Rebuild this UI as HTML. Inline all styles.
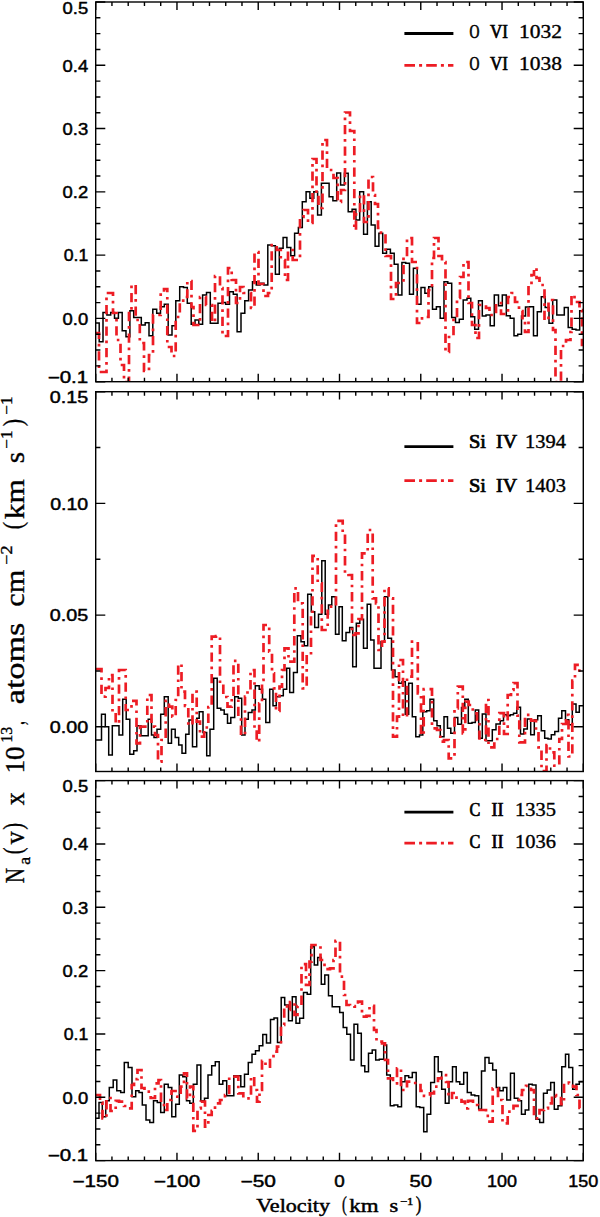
<!DOCTYPE html>
<html><head><meta charset="utf-8"><title>Na(v) profiles</title>
<style>html,body{margin:0;padding:0;background:#fff}svg{display:block}text{fill:#000}</style>
</head><body>
<svg width="600" height="1217" viewBox="0 0 600 1217">
<rect width="600" height="1217" fill="#fff"/>
<defs>
<clipPath id="c0"><rect x="95.7" y="2.0" width="487.6" height="379.7"/></clipPath>
<clipPath id="c1"><rect x="95.7" y="391.7" width="487.6" height="379.8"/></clipPath>
<clipPath id="c2"><rect x="95.7" y="780.6" width="487.6" height="380.0"/></clipPath>
</defs>
<g clip-path="url(#c0)" fill="none">
<path d="M95.7,323.0H99.2V341.7H103.0V312.5H106.9V315.0H110.7V312.5H114.5V318.3H118.4V312.5H122.2V330.8H126.0V336.7H129.9V310.8H133.7V317.5H137.5V317.5H141.3V325.0H145.2V322.8H149.0V335.8H152.8V309.2H156.7V313.3H160.5V306.7H164.3V304.2H168.2V335.0H172.0V325.8H175.8V300.8H179.7V286.7H183.5V287.5H187.3V303.3H191.2V324.2H195.0V320.0H198.8V324.2H202.6V295.0H206.5V292.5H210.3V323.3H214.1V323.3H218.0V303.3H221.8V302.5H225.6V304.2H229.5V291.7H233.3V294.2H237.1V331.7H241.0V313.3H244.8V300.8H248.6V290.0H252.5V281.7H256.3V285.0H260.1V283.3H263.9V285.0H267.8V245.0H271.6V245.8H275.4V274.2H279.3V248.3H283.1V237.5H286.9V247.5H290.8V255.8H294.6V233.3H298.4V227.5H302.3V201.7H306.1V191.7H309.9V198.3H313.8V191.7H317.6V215.0H321.4V183.3H325.2V183.3H329.1V196.7H332.9V200.8H336.7V173.0H340.6V185.0H344.4V173.3H348.2V211.7H352.1V209.2H355.9V220.0H359.7V191.7H363.6V234.2H367.4V201.7H371.2V225.0H375.1V246.3H378.9V233.3H382.7V253.3H386.5V249.2H390.4V253.3H394.2V264.2H398.0V295.0H401.9V262.5H405.7V263.3H409.5V294.2H413.4V268.3H417.2V304.2H421.0V287.5H424.9V293.3H428.7V286.7H432.5V309.2H436.4V306.7H440.2V318.3H444.0V281.7H447.8V283.3H451.7V317.5H455.5V322.5H459.3V319.2H463.2V300.0H467.0V298.3H470.8V316.7H474.7V329.2H478.5V300.8H482.3V316.0H486.0V315.0H490.2V325.8H494.3V295.0H498.5V305.8H502.3V295.0H506.3V315.8H510.2V318.3H514.0V335.8H517.7V334.2H521.5V316.0H525.5V307.0H529.7V306.7H533.5V335.8H537.3V311.7H541.3V296.7H545.2V307.5H549.0V323.3H552.7V300.0H556.8V315.0H560.6V315.0H564.3V307.5H568.2V327.5H572.2V329.2H576.0V330.0H579.7V310.8H583.3" stroke="#000" stroke-width="1.5" stroke-linejoin="miter"/>
<path d="M95.7,333.0H99.0V372.0H106.5V293.0H113.0V313.0H116.5V340.0H120.5V365.0H124.0V382.0H129.0V313.0H131.5V285.0H135.7V320.0H139.8V343.0H144.0V371.0H149.0V355.0H153.0V315.0H157.3V315.0H160.7V293.0H164.0V289.0H167.3V347.0H171.5V356.0H175.7V317.0H179.8V302.0H183.2V297.0H187.3V281.0H191.5V307.0H193.5V325.0H200.0V297.0H206.0V305.0H212.0V322.0H215.0V276.0H220.0V288.0H222.5V336.0H228.0V268.0H231.7V280.0H236.0V303.0H240.0V287.0H243.5V293.0H251.0V308.0H254.5V252.0H258.5V284.0H263.5V296.0H268.0V293.0H271.7V245.0H276.7V250.0H280.8V260.0H285.0V280.0H288.0V250.0H292.7V260.0H300.0V217.0H303.5V210.0H308.0V223.0H312.5V159.0H316.5V195.0H318.5V208.0H322.5V140.0H327.0V170.0H333.5V178.0H337.7V202.0H341.0V190.0H345.0V112.5H350.0V131.0H354.3V230.0H356.0V213.0H360.0V195.0H364.0V222.0H368.5V177.0H373.0V195.0H375.0V204.0H378.0V228.0H381.0V233.0H385.5V256.0H391.0V299.0H396.0V283.0H403.5V257.0H407.0V238.0H412.0V262.0H417.0V323.0H422.0V317.0H428.5V290.0H432.0V258.0H434.0V238.0H438.5V256.0H442.0V262.0H445.5V352.0H449.0V337.0H453.5V318.0H457.0V298.0H460.0V277.0H463.5V262.0H468.5V303.0H472.0V325.0H475.5V338.0H479.0V305.0H486.0V308.0H489.5V315.0H496.0V303.0H501.0V314.0H508.0V297.0H511.5V293.0H515.0V302.0H519.0V311.0H522.5V320.0H525.0V332.0H528.5V285.0H531.5V275.0H534.0V268.0H536.5V278.0H539.5V285.0H544.5V320.0H548.5V300.0H553.0V330.0H555.5V382.0H561.0V346.0H566.0V340.0H570.5V332.0H571.5V295.0H574.5V302.0H579.5V310.0H582.0V345.0H583.3" stroke="#ed1c24" stroke-width="2.7" stroke-dasharray="9.3 4.8 2.6 4.8" stroke-linejoin="miter"/>
</g>
<path d="M95.70,2.0v7.9M95.70,381.7v-7.9M111.95,2.0v4.0M111.95,381.7v-4.0M128.21,2.0v4.0M128.21,381.7v-4.0M144.46,2.0v4.0M144.46,381.7v-4.0M160.71,2.0v4.0M160.71,381.7v-4.0M176.97,2.0v7.9M176.97,381.7v-7.9M193.22,2.0v4.0M193.22,381.7v-4.0M209.47,2.0v4.0M209.47,381.7v-4.0M225.73,2.0v4.0M225.73,381.7v-4.0M241.98,2.0v4.0M241.98,381.7v-4.0M258.23,2.0v7.9M258.23,381.7v-7.9M274.49,2.0v4.0M274.49,381.7v-4.0M290.74,2.0v4.0M290.74,381.7v-4.0M306.99,2.0v4.0M306.99,381.7v-4.0M323.25,2.0v4.0M323.25,381.7v-4.0M339.50,2.0v7.9M339.50,381.7v-7.9M355.75,2.0v4.0M355.75,381.7v-4.0M372.01,2.0v4.0M372.01,381.7v-4.0M388.26,2.0v4.0M388.26,381.7v-4.0M404.51,2.0v4.0M404.51,381.7v-4.0M420.77,2.0v7.9M420.77,381.7v-7.9M437.02,2.0v4.0M437.02,381.7v-4.0M453.27,2.0v4.0M453.27,381.7v-4.0M469.53,2.0v4.0M469.53,381.7v-4.0M485.78,2.0v4.0M485.78,381.7v-4.0M502.03,2.0v7.9M502.03,381.7v-7.9M518.29,2.0v4.0M518.29,381.7v-4.0M534.54,2.0v4.0M534.54,381.7v-4.0M550.79,2.0v4.0M550.79,381.7v-4.0M567.05,2.0v4.0M567.05,381.7v-4.0M583.30,2.0v7.9M583.30,381.7v-7.9M95.7,2.00h9.6M583.3,2.00h-9.6M95.7,17.82h4.7M583.3,17.82h-4.7M95.7,33.64h4.7M583.3,33.64h-4.7M95.7,49.46h4.7M583.3,49.46h-4.7M95.7,65.28h9.6M583.3,65.28h-9.6M95.7,81.10h4.7M583.3,81.10h-4.7M95.7,96.93h4.7M583.3,96.93h-4.7M95.7,112.75h4.7M583.3,112.75h-4.7M95.7,128.57h9.6M583.3,128.57h-9.6M95.7,144.39h4.7M583.3,144.39h-4.7M95.7,160.21h4.7M583.3,160.21h-4.7M95.7,176.03h4.7M583.3,176.03h-4.7M95.7,191.85h9.6M583.3,191.85h-9.6M95.7,207.67h4.7M583.3,207.67h-4.7M95.7,223.49h4.7M583.3,223.49h-4.7M95.7,239.31h4.7M583.3,239.31h-4.7M95.7,255.13h9.6M583.3,255.13h-9.6M95.7,270.95h4.7M583.3,270.95h-4.7M95.7,286.78h4.7M583.3,286.78h-4.7M95.7,302.60h4.7M583.3,302.60h-4.7M95.7,318.42h9.6M583.3,318.42h-9.6M95.7,334.24h4.7M583.3,334.24h-4.7M95.7,350.06h4.7M583.3,350.06h-4.7M95.7,365.88h4.7M583.3,365.88h-4.7M95.7,381.70h9.6M583.3,381.70h-9.6" stroke="#000" stroke-width="1.4" fill="none"/>
<rect x="95.7" y="2.0" width="487.6" height="379.7" fill="none" stroke="#000" stroke-width="1.4"/>
<text x="88.2" y="13.6" text-anchor="end" textLength="25.6" lengthAdjust="spacingAndGlyphs" style="font-family:&quot;Liberation Sans&quot;,serif;font-size:16.0px;font-weight:normal" stroke="#000" stroke-width="0.45">0.5</text>
<text x="88.2" y="71.6" text-anchor="end" textLength="25.6" lengthAdjust="spacingAndGlyphs" style="font-family:&quot;Liberation Sans&quot;,serif;font-size:16.0px;font-weight:normal" stroke="#000" stroke-width="0.45">0.4</text>
<text x="88.2" y="134.9" text-anchor="end" textLength="25.6" lengthAdjust="spacingAndGlyphs" style="font-family:&quot;Liberation Sans&quot;,serif;font-size:16.0px;font-weight:normal" stroke="#000" stroke-width="0.45">0.3</text>
<text x="88.2" y="198.2" text-anchor="end" textLength="25.6" lengthAdjust="spacingAndGlyphs" style="font-family:&quot;Liberation Sans&quot;,serif;font-size:16.0px;font-weight:normal" stroke="#000" stroke-width="0.45">0.2</text>
<text x="88.2" y="261.4" text-anchor="end" textLength="24.5" lengthAdjust="spacingAndGlyphs" style="font-family:&quot;Liberation Sans&quot;,serif;font-size:16.0px;font-weight:normal" stroke="#000" stroke-width="0.45">0.1</text>
<text x="88.2" y="324.7" text-anchor="end" textLength="25.6" lengthAdjust="spacingAndGlyphs" style="font-family:&quot;Liberation Sans&quot;,serif;font-size:16.0px;font-weight:normal" stroke="#000" stroke-width="0.45">0.0</text>
<text x="88.2" y="382.5" text-anchor="end" textLength="40.5" lengthAdjust="spacingAndGlyphs" style="font-family:&quot;Liberation Sans&quot;,serif;font-size:16.0px;font-weight:normal" stroke="#000" stroke-width="0.45">−0.1</text>
<g clip-path="url(#c1)" fill="none">
<path d="M95.7,740.0H101.5V714.2H105.3V726.7H108.7V755.0H112.3V725.8H119.0V735.0H122.7V699.2H126.2V719.2H129.8V754.2H133.7V750.8H137.0V725.8H141.0V735.8H148.2V719.2H151.5V735.0H154.0V737.5H157.0V729.2H160.7V714.2H164.3V696.7H168.2V743.3H171.5V729.2H175.2V737.5H178.7V745.0H182.0V753.3H185.7V734.2H189.0V720.0H192.5V746.7H196.7V718.3H199.2V711.7H203.0V732.5H206.7V755.8H210.0V729.2H213.7V678.3H217.2V708.3H220.8V710.0H224.2V714.2H227.5V723.3H230.8V717.5H234.7V696.7H238.3V698.3H241.7V735.0H245.0V719.2H248.3V712.5H252.0V710.0H255.3V685.8H259.2V689.2H262.5V699.2H265.8V722.5H269.7V689.2H273.0V705.8H276.3V696.7H280.0V695.8H283.3V689.2H286.7V668.3H289.7V692.5H293.5V672.5H297.3V635.8H301.0V641.7H304.3V645.8H307.7V594.2H311.3V611.7H314.7V627.5H318.5V614.2H321.8V560.8H325.2V614.2H328.5V605.0H331.8V596.7H335.5V634.2H339.0V606.7H342.3V640.8H346.0V632.5H349.7V627.5H352.7V666.7H356.3V623.3H359.8V619.2H363.5V648.3H367.2V604.2H370.7V640.0H374.0V668.3H377.7V668.3H381.0V641.7H384.5V596.7H387.8V638.3H391.5V670.0H395.0V676.7H398.7V683.3H402.0V681.7H405.3V714.2H408.7V683.3H412.3V716.7H415.8V736.7H419.5V735.0H422.8V711.7H426.7V710.8H430.0V699.2H433.7V720.8H437.0V725.8H440.3V736.7H444.0V716.7H447.5V728.3H450.8V733.3H454.5V717.5H457.8V724.2H461.5V707.5H464.8V699.2H468.3V723.3H472.0V722.5H475.3V710.0H478.7V738.3H482.3V714.0H486.0V740.7H492.3V729.8H496.0V724.0H500.2V720.7H503.5V714.8H506.8V715.7H510.2V714.8H513.5V713.2H516.8V707.3H520.5V734.0H523.8V729.0H527.3V719.0H530.7V734.8H534.3V719.8H537.7V715.7H541.3V730.7H544.7V738.2H548.0V739.0H551.3V734.8H554.8V731.5H558.5V718.2H561.8V710.7H565.5V719.8H568.8V724.8H572.3V704.0H576.0V712.3H579.3V705.7H583.3" stroke="#000" stroke-width="1.5" stroke-linejoin="miter"/>
<path d="M95.7,669.0H101.5V696.7H105.5V688.0H109.0V675.0H112.5V711.7H115.7V723.3H119.0V670.0H122.5V670.0H125.7V710.0H131.5V700.8H136.5V743.3H140.0V726.7H147.3V695.0H151.5V726.7H155.0V735.0H158.0V761.7H161.5V740.0H165.7V700.8H169.0V706.7H172.3V716.7H175.7V700.0H178.2V664.2H181.5V691.7H185.0V705.8H188.3V725.0H192.5V691.7H196.7V721.7H200.0V736.7H204.2V727.5H208.3V707.0H211.7V636.7H216.0V636.0H220.0V683.3H223.3V697.0H227.5V706.7H231.7V696.7H233.5V660.8H238.3V716.7H241.0V735.0H245.0V696.7H247.5V690.0H250.5V670.0H254.5V731.7H256.7V741.7H259.2V703.3H262.0V680.0H263.5V625.0H269.2V651.7H272.0V673.3H274.0V688.3H276.0V711.0H279.5V686.7H282.0V670.0H284.5V648.3H288.5V661.7H294.3V588.3H298.0V603.3H302.7V688.3H306.7V655.0H311.0V615.0H312.5V555.8H317.7V583.3H321.8V630.0H327.7V606.7H336.0V520.8H342.7V533.0H345.0V573.3H348.5V575.0H352.0V635.0H355.5V633.3H358.5V619.2H362.0V553.3H367.7V530.0H372.7V598.3H376.0V603.3H378.5V650.0H382.0V641.7H384.5V588.3H388.7V598.3H393.0V736.7H397.0V716.7H399.0V660.0H403.0V716.7H407.0V676.7H412.0V641.7H417.8V693.3H421.0V735.0H423.7V689.2H432.0V728.3H437.0V730.0H440.3V741.7H444.0V740.0H448.7V758.3H454.5V708.3H457.8V686.7H462.8V733.3H465.3V701.7H468.7V705.0H472.8V713.3H477.0V720.0H479.5V740.0H486.0V700.0H488.5V747.3H494.3V739.0H499.3V713.2H504.0V734.0H507.7V695.0H511.0V690.0H513.5V683.2H517.5V715.7H519.3V742.3H525.0V714.8H531.0V720.7H536.0V730.0H538.5V747.3H541.5V771.0H546.5V745.0H550.0V752.3H554.3V765.7H559.3V739.0H562.0V724.0H566.0V714.8H568.5V756.5H572.3V680.7H575.0V664.8H579.3V672.3H583.3" stroke="#ed1c24" stroke-width="2.7" stroke-dasharray="9.3 4.8 2.6 4.8" stroke-linejoin="miter"/>
</g>
<path d="M95.70,391.7v7.9M95.70,771.5v-7.9M111.95,391.7v4.0M111.95,771.5v-4.0M128.21,391.7v4.0M128.21,771.5v-4.0M144.46,391.7v4.0M144.46,771.5v-4.0M160.71,391.7v4.0M160.71,771.5v-4.0M176.97,391.7v7.9M176.97,771.5v-7.9M193.22,391.7v4.0M193.22,771.5v-4.0M209.47,391.7v4.0M209.47,771.5v-4.0M225.73,391.7v4.0M225.73,771.5v-4.0M241.98,391.7v4.0M241.98,771.5v-4.0M258.23,391.7v7.9M258.23,771.5v-7.9M274.49,391.7v4.0M274.49,771.5v-4.0M290.74,391.7v4.0M290.74,771.5v-4.0M306.99,391.7v4.0M306.99,771.5v-4.0M323.25,391.7v4.0M323.25,771.5v-4.0M339.50,391.7v7.9M339.50,771.5v-7.9M355.75,391.7v4.0M355.75,771.5v-4.0M372.01,391.7v4.0M372.01,771.5v-4.0M388.26,391.7v4.0M388.26,771.5v-4.0M404.51,391.7v4.0M404.51,771.5v-4.0M420.77,391.7v7.9M420.77,771.5v-7.9M437.02,391.7v4.0M437.02,771.5v-4.0M453.27,391.7v4.0M453.27,771.5v-4.0M469.53,391.7v4.0M469.53,771.5v-4.0M485.78,391.7v4.0M485.78,771.5v-4.0M502.03,391.7v7.9M502.03,771.5v-7.9M518.29,391.7v4.0M518.29,771.5v-4.0M534.54,391.7v4.0M534.54,771.5v-4.0M550.79,391.7v4.0M550.79,771.5v-4.0M567.05,391.7v4.0M567.05,771.5v-4.0M583.30,391.7v7.9M583.30,771.5v-7.9M95.7,391.70h9.6M583.3,391.70h-9.6M95.7,447.55h4.7M583.3,447.55h-4.7M95.7,503.41h9.6M583.3,503.41h-9.6M95.7,559.26h4.7M583.3,559.26h-4.7M95.7,615.11h9.6M583.3,615.11h-9.6M95.7,670.96h4.7M583.3,670.96h-4.7M95.7,726.82h9.6M583.3,726.82h-9.6" stroke="#000" stroke-width="1.4" fill="none"/>
<rect x="95.7" y="391.7" width="487.6" height="379.8" fill="none" stroke="#000" stroke-width="1.4"/>
<text x="88.2" y="403.3" text-anchor="end" textLength="38.4" lengthAdjust="spacingAndGlyphs" style="font-family:&quot;Liberation Sans&quot;,serif;font-size:16.0px;font-weight:normal" stroke="#000" stroke-width="0.45">0.15</text>
<text x="88.2" y="509.7" text-anchor="end" textLength="38.0" lengthAdjust="spacingAndGlyphs" style="font-family:&quot;Liberation Sans&quot;,serif;font-size:16.0px;font-weight:normal" stroke="#000" stroke-width="0.45">0.10</text>
<text x="88.2" y="621.4" text-anchor="end" textLength="38.4" lengthAdjust="spacingAndGlyphs" style="font-family:&quot;Liberation Sans&quot;,serif;font-size:16.0px;font-weight:normal" stroke="#000" stroke-width="0.45">0.05</text>
<text x="88.2" y="733.1" text-anchor="end" textLength="38.4" lengthAdjust="spacingAndGlyphs" style="font-family:&quot;Liberation Sans&quot;,serif;font-size:16.0px;font-weight:normal" stroke="#000" stroke-width="0.45">0.00</text>
<g clip-path="url(#c2)" fill="none">
<path d="M95.7,1118.3H99.0V1102.5H102.3V1116.7H105.7V1100.8H109.3V1087.5H113.2V1080.0H116.8V1090.8H120.7V1092.5H124.3V1062.5H128.2V1067.5H132.0V1096.7H135.7V1090.8H139.0V1092.5H142.3V1105.0H146.0V1120.0H149.8V1122.5H153.5V1100.8H157.3V1102.5H160.7V1112.5H164.3V1084.2H168.2V1087.5H171.8V1116.7H175.7V1104.2H179.3V1075.0H182.8V1076.7H186.5V1100.8H189.8V1103.3H193.3V1084.2H197.0V1065.0H200.8V1100.8H204.5V1098.3H208.0V1075.0H211.7V1065.8H215.3V1061.7H219.2V1084.2H222.8V1080.8H226.7V1095.8H230.3V1095.8H233.8V1075.8H237.2V1075.8H240.8V1086.7H244.5V1074.2H248.3V1062.5H252.0V1054.2H255.5V1050.8H259.2V1045.8H262.8V1034.5H266.5V1043.0H270.5V1019.5H274.0V1018.0H277.5V1042.5H281.2V997.5H284.7V1005.0H288.5V1020.8H292.3V996.7H296.0V1023.3H299.7V1018.3H303.5V992.5H307.2V994.2H310.7V946.7H314.3V965.0H317.7V957.5H321.3V984.2H324.8V975.0H328.5V995.8H332.2V1006.7H336.0V1006.7H339.7V1012.5H343.2V1027.5H346.8V1034.2H350.5V1060.0H354.0V1024.2H357.7V1033.3H361.3V1065.8H364.8V1071.7H368.5V1053.3H372.2V1050.0H375.7V1060.0H379.3V1059.2H383.7V1045.0H386.7V1075.0H390.3V1105.8H394.0V1105.0H397.8V1106.7H401.5V1081.7H405.0V1075.8H408.7V1077.5H412.3V1072.5H416.2V1106.7H419.8V1107.5H423.7V1131.7H427.0V1114.2H430.7V1082.5H434.5V1056.7H438.2V1071.7H441.7V1089.2H445.3V1103.3H449.0V1081.7H452.5V1066.7H456.2V1081.7H459.8V1084.2H463.7V1072.5H467.3V1092.5H471.2V1095.0H474.8V1095.8H478.7V1109.2H481.5V1071.0H485.0V1057.5H489.0V1063.3H492.7V1070.0H496.3V1087.5H499.7V1090.8H503.2V1087.5H506.8V1100.0H510.5V1073.3H514.3V1098.3H518.0V1100.8H521.5V1114.2H525.2V1110.0H528.8V1084.2H532.3V1085.0H536.0V1119.2H539.7V1122.5H543.5V1093.3H547.2V1090.0H550.7V1082.5H554.3V1109.2H558.0V1105.8H561.8V1066.7H565.5V1054.2H568.8V1067.5H572.7V1089.2H576.0V1084.2H579.3V1081.7H583.3" stroke="#000" stroke-width="1.5" stroke-linejoin="miter"/>
<path d="M95.7,1095.0H100.0V1102.5H102.5V1118.3H106.5V1098.0H110.5V1111.0H115.7V1100.8H119.0V1101.7H124.0V1106.0H128.5V1108.3H131.7V1085.0H134.0V1079.2H137.5V1070.0H141.5V1088.0H144.5V1091.7H150.7V1098.0H155.0V1083.3H158.5V1080.0H161.0V1102.0H164.0V1110.0H167.3V1100.0H171.5V1091.0H177.3V1096.7H180.7V1086.7H184.0V1073.3H187.0V1098.3H190.0V1086.7H193.3V1130.8H197.5V1108.3H200.8V1101.7H205.0V1126.7H208.3V1115.0H211.7V1110.8H215.0V1103.3H220.0V1100.0H225.0V1095.0H229.2V1076.7H238.3V1093.3H243.3V1098.3H251.0V1076.7H254.2V1090.0H257.0V1101.7H259.5V1090.0H262.0V1060.8H265.5V1066.7H270.0V1060.0H273.5V1051.7H277.0V1046.7H281.0V1025.0H284.2V1005.8H287.0V1010.0H290.0V1002.0H294.5V1015.0H297.5V1006.0H301.5V964.2H306.0V985.0H309.5V961.7H311.5V945.0H317.0V947.5H320.5V960.0H324.5V969.2H330.0V968.3H333.5V960.0H335.5V940.8H340.0V976.7H344.0V995.0H346.5V1005.0H350.0V1006.0H354.5V1006.7H358.0V1001.7H362.0V1016.7H366.5V1015.8H369.5V1005.8H374.0V1030.0H376.5V1041.7H382.0V1043.3H385.0V1060.0H388.0V1078.3H393.0V1083.3H397.0V1068.3H401.0V1090.0H407.0V1081.7H412.0V1083.0H417.0V1083.3H420.5V1090.8H424.0V1095.8H430.0V1093.3H434.0V1086.7H438.0V1078.3H441.5V1075.0H446.0V1082.0H448.5V1098.0H452.0V1093.0H456.5V1100.0H461.5V1101.7H465.0V1108.3H468.0V1100.8H473.0V1105.0H478.0V1110.0H486.0V1115.8H489.5V1121.7H492.7V1088.3H498.0V1100.0H502.5V1123.3H507.7V1111.7H513.5V1105.8H519.0V1095.0H522.0V1090.0H526.0V1085.8H531.0V1090.0H534.0V1118.3H539.5V1110.0H544.0V1108.3H548.0V1103.3H552.0V1095.0H556.0V1096.7H561.0V1104.2H564.0V1082.5H569.0V1083.3H573.0V1086.7H576.5V1095.0H579.5V1108.0H583.3" stroke="#ed1c24" stroke-width="2.7" stroke-dasharray="9.3 4.8 2.6 4.8" stroke-linejoin="miter"/>
</g>
<path d="M95.70,780.6v7.9M95.70,1160.6v-7.9M111.95,780.6v4.0M111.95,1160.6v-4.0M128.21,780.6v4.0M128.21,1160.6v-4.0M144.46,780.6v4.0M144.46,1160.6v-4.0M160.71,780.6v4.0M160.71,1160.6v-4.0M176.97,780.6v7.9M176.97,1160.6v-7.9M193.22,780.6v4.0M193.22,1160.6v-4.0M209.47,780.6v4.0M209.47,1160.6v-4.0M225.73,780.6v4.0M225.73,1160.6v-4.0M241.98,780.6v4.0M241.98,1160.6v-4.0M258.23,780.6v7.9M258.23,1160.6v-7.9M274.49,780.6v4.0M274.49,1160.6v-4.0M290.74,780.6v4.0M290.74,1160.6v-4.0M306.99,780.6v4.0M306.99,1160.6v-4.0M323.25,780.6v4.0M323.25,1160.6v-4.0M339.50,780.6v7.9M339.50,1160.6v-7.9M355.75,780.6v4.0M355.75,1160.6v-4.0M372.01,780.6v4.0M372.01,1160.6v-4.0M388.26,780.6v4.0M388.26,1160.6v-4.0M404.51,780.6v4.0M404.51,1160.6v-4.0M420.77,780.6v7.9M420.77,1160.6v-7.9M437.02,780.6v4.0M437.02,1160.6v-4.0M453.27,780.6v4.0M453.27,1160.6v-4.0M469.53,780.6v4.0M469.53,1160.6v-4.0M485.78,780.6v4.0M485.78,1160.6v-4.0M502.03,780.6v7.9M502.03,1160.6v-7.9M518.29,780.6v4.0M518.29,1160.6v-4.0M534.54,780.6v4.0M534.54,1160.6v-4.0M550.79,780.6v4.0M550.79,1160.6v-4.0M567.05,780.6v4.0M567.05,1160.6v-4.0M583.30,780.6v7.9M583.30,1160.6v-7.9M95.7,780.60h9.6M583.3,780.60h-9.6M95.7,796.43h4.7M583.3,796.43h-4.7M95.7,812.27h4.7M583.3,812.27h-4.7M95.7,828.10h4.7M583.3,828.10h-4.7M95.7,843.93h9.6M583.3,843.93h-9.6M95.7,859.77h4.7M583.3,859.77h-4.7M95.7,875.60h4.7M583.3,875.60h-4.7M95.7,891.43h4.7M583.3,891.43h-4.7M95.7,907.27h9.6M583.3,907.27h-9.6M95.7,923.10h4.7M583.3,923.10h-4.7M95.7,938.93h4.7M583.3,938.93h-4.7M95.7,954.77h4.7M583.3,954.77h-4.7M95.7,970.60h9.6M583.3,970.60h-9.6M95.7,986.43h4.7M583.3,986.43h-4.7M95.7,1002.27h4.7M583.3,1002.27h-4.7M95.7,1018.10h4.7M583.3,1018.10h-4.7M95.7,1033.93h9.6M583.3,1033.93h-9.6M95.7,1049.77h4.7M583.3,1049.77h-4.7M95.7,1065.60h4.7M583.3,1065.60h-4.7M95.7,1081.43h4.7M583.3,1081.43h-4.7M95.7,1097.27h9.6M583.3,1097.27h-9.6M95.7,1113.10h4.7M583.3,1113.10h-4.7M95.7,1128.93h4.7M583.3,1128.93h-4.7M95.7,1144.77h4.7M583.3,1144.77h-4.7M95.7,1160.60h9.6M583.3,1160.60h-9.6" stroke="#000" stroke-width="1.4" fill="none"/>
<rect x="95.7" y="780.6" width="487.6" height="380.0" fill="none" stroke="#000" stroke-width="1.4"/>
<text x="88.2" y="792.2" text-anchor="end" textLength="25.6" lengthAdjust="spacingAndGlyphs" style="font-family:&quot;Liberation Sans&quot;,serif;font-size:16.0px;font-weight:normal" stroke="#000" stroke-width="0.45">0.5</text>
<text x="88.2" y="850.2" text-anchor="end" textLength="25.6" lengthAdjust="spacingAndGlyphs" style="font-family:&quot;Liberation Sans&quot;,serif;font-size:16.0px;font-weight:normal" stroke="#000" stroke-width="0.45">0.4</text>
<text x="88.2" y="913.6" text-anchor="end" textLength="25.6" lengthAdjust="spacingAndGlyphs" style="font-family:&quot;Liberation Sans&quot;,serif;font-size:16.0px;font-weight:normal" stroke="#000" stroke-width="0.45">0.3</text>
<text x="88.2" y="976.9" text-anchor="end" textLength="25.6" lengthAdjust="spacingAndGlyphs" style="font-family:&quot;Liberation Sans&quot;,serif;font-size:16.0px;font-weight:normal" stroke="#000" stroke-width="0.45">0.2</text>
<text x="88.2" y="1040.2" text-anchor="end" textLength="24.5" lengthAdjust="spacingAndGlyphs" style="font-family:&quot;Liberation Sans&quot;,serif;font-size:16.0px;font-weight:normal" stroke="#000" stroke-width="0.45">0.1</text>
<text x="88.2" y="1103.6" text-anchor="end" textLength="25.6" lengthAdjust="spacingAndGlyphs" style="font-family:&quot;Liberation Sans&quot;,serif;font-size:16.0px;font-weight:normal" stroke="#000" stroke-width="0.45">0.0</text>
<text x="88.2" y="1161.4" text-anchor="end" textLength="40.5" lengthAdjust="spacingAndGlyphs" style="font-family:&quot;Liberation Sans&quot;,serif;font-size:16.0px;font-weight:normal" stroke="#000" stroke-width="0.45">−0.1</text>
<text x="95.7" y="1187.0" text-anchor="middle" textLength="46.3" lengthAdjust="spacingAndGlyphs" style="font-family:&quot;Liberation Sans&quot;,serif;font-size:16.0px;font-weight:normal" stroke="#000" stroke-width="0.45">−150</text>
<text x="177.0" y="1187.0" text-anchor="middle" textLength="46.6" lengthAdjust="spacingAndGlyphs" style="font-family:&quot;Liberation Sans&quot;,serif;font-size:16.0px;font-weight:normal" stroke="#000" stroke-width="0.45">−100</text>
<text x="258.2" y="1187.0" text-anchor="middle" textLength="35.4" lengthAdjust="spacingAndGlyphs" style="font-family:&quot;Liberation Sans&quot;,serif;font-size:16.0px;font-weight:normal" stroke="#000" stroke-width="0.45">−50</text>
<text x="339.5" y="1187.0" text-anchor="middle" textLength="10.5" lengthAdjust="spacingAndGlyphs" style="font-family:&quot;Liberation Sans&quot;,serif;font-size:16.0px;font-weight:normal" stroke="#000" stroke-width="0.45">0</text>
<text x="420.8" y="1187.0" text-anchor="middle" textLength="22.6" lengthAdjust="spacingAndGlyphs" style="font-family:&quot;Liberation Sans&quot;,serif;font-size:16.0px;font-weight:normal" stroke="#000" stroke-width="0.45">50</text>
<text x="502.0" y="1187.0" text-anchor="middle" textLength="30.0" lengthAdjust="spacingAndGlyphs" style="font-family:&quot;Liberation Sans&quot;,serif;font-size:16.0px;font-weight:normal" stroke="#000" stroke-width="0.45">100</text>
<text x="583.3" y="1187.0" text-anchor="middle" textLength="30.0" lengthAdjust="spacingAndGlyphs" style="font-family:&quot;Liberation Sans&quot;,serif;font-size:16.0px;font-weight:normal" stroke="#000" stroke-width="0.45">150</text>
<path d="M404.4,33.5H453.4" stroke="#000" stroke-width="2.9" fill="none"/>
<path d="M404.4,65.3H453.4" stroke="#ed1c24" stroke-width="2.8" stroke-dasharray="10.6 4.1 3 4.1" fill="none"/>
<text x="469.6" y="37.7" textLength="9.9" lengthAdjust="spacingAndGlyphs" style="font-family:&quot;Liberation Serif&quot;,serif;font-size:18.3px;font-weight:normal" stroke="#000" stroke-width="0.7">O</text>
<text x="490.0" y="37.7" textLength="18.0" lengthAdjust="spacingAndGlyphs" style="font-family:&quot;Liberation Serif&quot;,serif;font-size:18.3px;font-weight:normal" stroke="#000" stroke-width="0.7">VI</text>
<text x="519.0" y="37.7" textLength="43.0" lengthAdjust="spacingAndGlyphs" style="font-family:&quot;Liberation Serif&quot;,serif;font-size:18.3px;font-weight:normal" stroke="#000" stroke-width="0.35">1032</text>
<text x="469.6" y="69.5" textLength="9.9" lengthAdjust="spacingAndGlyphs" style="font-family:&quot;Liberation Serif&quot;,serif;font-size:18.3px;font-weight:normal" stroke="#000" stroke-width="0.7">O</text>
<text x="490.0" y="69.5" textLength="18.0" lengthAdjust="spacingAndGlyphs" style="font-family:&quot;Liberation Serif&quot;,serif;font-size:18.3px;font-weight:normal" stroke="#000" stroke-width="0.7">VI</text>
<text x="519.0" y="69.5" textLength="43.0" lengthAdjust="spacingAndGlyphs" style="font-family:&quot;Liberation Serif&quot;,serif;font-size:18.3px;font-weight:normal" stroke="#000" stroke-width="0.35">1038</text>
<path d="M404.4,446.6H453.4" stroke="#000" stroke-width="2.9" fill="none"/>
<path d="M404.4,480.6H453.4" stroke="#ed1c24" stroke-width="2.8" stroke-dasharray="10.6 4.1 3 4.1" fill="none"/>
<text x="469.0" y="448.4" textLength="17.0" lengthAdjust="spacingAndGlyphs" style="font-family:&quot;Liberation Serif&quot;,serif;font-size:18.3px;font-weight:normal" stroke="#000" stroke-width="0.7">Si</text>
<text x="496.0" y="448.4" textLength="21.0" lengthAdjust="spacingAndGlyphs" style="font-family:&quot;Liberation Serif&quot;,serif;font-size:18.3px;font-weight:normal" stroke="#000" stroke-width="0.7">IV</text>
<text x="525.0" y="448.4" textLength="41.0" lengthAdjust="spacingAndGlyphs" style="font-family:&quot;Liberation Serif&quot;,serif;font-size:18.3px;font-weight:normal" stroke="#000" stroke-width="0.35">1394</text>
<text x="469.0" y="491.7" textLength="17.0" lengthAdjust="spacingAndGlyphs" style="font-family:&quot;Liberation Serif&quot;,serif;font-size:18.3px;font-weight:normal" stroke="#000" stroke-width="0.7">Si</text>
<text x="496.0" y="491.7" textLength="21.0" lengthAdjust="spacingAndGlyphs" style="font-family:&quot;Liberation Serif&quot;,serif;font-size:18.3px;font-weight:normal" stroke="#000" stroke-width="0.7">IV</text>
<text x="525.0" y="491.7" textLength="41.0" lengthAdjust="spacingAndGlyphs" style="font-family:&quot;Liberation Serif&quot;,serif;font-size:18.3px;font-weight:normal" stroke="#000" stroke-width="0.35">1403</text>
<path d="M404.4,812.1H453.4" stroke="#000" stroke-width="2.9" fill="none"/>
<path d="M404.4,843.2H453.4" stroke="#ed1c24" stroke-width="2.8" stroke-dasharray="10.6 4.1 3 4.1" fill="none"/>
<text x="469.6" y="816.1" textLength="10.8" lengthAdjust="spacingAndGlyphs" style="font-family:&quot;Liberation Serif&quot;,serif;font-size:18.3px;font-weight:normal" stroke="#000" stroke-width="0.7">C</text>
<text x="491.5" y="816.1" textLength="12.0" lengthAdjust="spacingAndGlyphs" style="font-family:&quot;Liberation Serif&quot;,serif;font-size:18.3px;font-weight:normal" stroke="#000" stroke-width="0.7">II</text>
<text x="515.0" y="816.1" textLength="41.0" lengthAdjust="spacingAndGlyphs" style="font-family:&quot;Liberation Serif&quot;,serif;font-size:18.3px;font-weight:normal" stroke="#000" stroke-width="0.35">1335</text>
<text x="469.6" y="847.6" textLength="10.8" lengthAdjust="spacingAndGlyphs" style="font-family:&quot;Liberation Serif&quot;,serif;font-size:18.3px;font-weight:normal" stroke="#000" stroke-width="0.7">C</text>
<text x="491.5" y="847.6" textLength="12.0" lengthAdjust="spacingAndGlyphs" style="font-family:&quot;Liberation Serif&quot;,serif;font-size:18.3px;font-weight:normal" stroke="#000" stroke-width="0.7">II</text>
<text x="515.0" y="847.6" textLength="41.0" lengthAdjust="spacingAndGlyphs" style="font-family:&quot;Liberation Serif&quot;,serif;font-size:18.3px;font-weight:normal" stroke="#000" stroke-width="0.35">1036</text>
<text transform="translate(23.9,883.2) rotate(-90)" textLength="15.4" lengthAdjust="spacingAndGlyphs" style="font-family:&quot;Liberation Serif&quot;,serif;font-size:27.2px;font-weight:normal" stroke="#000" stroke-width="0.35">N</text>
<text transform="translate(30.4,864.7) rotate(-90)" textLength="7.9" lengthAdjust="spacingAndGlyphs" style="font-family:&quot;Liberation Serif&quot;,serif;font-size:16.5px;font-weight:normal" stroke="#000" stroke-width="0.35">a</text>
<text transform="translate(22.4,854.2) rotate(-90)" textLength="6.9" lengthAdjust="spacingAndGlyphs" style="font-family:&quot;Liberation Serif&quot;,serif;font-size:27.2px;font-weight:normal" stroke="#000" stroke-width="0.35">(</text>
<text transform="translate(23.9,844.2) rotate(-90)" textLength="12.9" lengthAdjust="spacingAndGlyphs" style="font-family:&quot;Liberation Serif&quot;,serif;font-size:27.2px;font-weight:normal" stroke="#000" stroke-width="0.35">v</text>
<text transform="translate(22.4,829.7) rotate(-90)" textLength="6.9" lengthAdjust="spacingAndGlyphs" style="font-family:&quot;Liberation Serif&quot;,serif;font-size:27.2px;font-weight:normal" stroke="#000" stroke-width="0.35">)</text>
<text transform="translate(23.9,805.2) rotate(-90)" textLength="12.9" lengthAdjust="spacingAndGlyphs" style="font-family:&quot;Liberation Serif&quot;,serif;font-size:27.2px;font-weight:normal" stroke="#000" stroke-width="0.35">x</text>
<text transform="translate(23.9,773.5) rotate(-90)" textLength="27.2" lengthAdjust="spacingAndGlyphs" style="font-family:&quot;Liberation Serif&quot;,serif;font-size:27.2px;font-weight:normal" stroke="#000" stroke-width="0.35">10</text>
<text transform="translate(12.0,742.8) rotate(-90)" textLength="16.0" lengthAdjust="spacingAndGlyphs" style="font-family:&quot;Liberation Serif&quot;,serif;font-size:16.0px;font-weight:normal" stroke="#000" stroke-width="0.35">13</text>
<text transform="translate(23.9,725.0) rotate(-90)" textLength="4.0" lengthAdjust="spacingAndGlyphs" style="font-family:&quot;Liberation Serif&quot;,serif;font-size:27.2px;font-weight:normal" stroke="#000" stroke-width="0.35">,</text>
<text transform="translate(23.9,704.2) rotate(-90)" textLength="81.4" lengthAdjust="spacingAndGlyphs" style="font-family:&quot;Liberation Serif&quot;,serif;font-size:27.2px;font-weight:normal" stroke="#000" stroke-width="0.35">atoms</text>
<text transform="translate(23.9,606.7) rotate(-90)" textLength="36.9" lengthAdjust="spacingAndGlyphs" style="font-family:&quot;Liberation Serif&quot;,serif;font-size:27.2px;font-weight:normal" stroke="#000" stroke-width="0.35">cm</text>
<text transform="translate(12.0,564.7) rotate(-90)" textLength="19.4" lengthAdjust="spacingAndGlyphs" style="font-family:&quot;Liberation Serif&quot;,serif;font-size:16.0px;font-weight:normal" stroke="#000" stroke-width="0.35">−2</text>
<text transform="translate(22.4,529.2) rotate(-90)" textLength="7.2" lengthAdjust="spacingAndGlyphs" style="font-family:&quot;Liberation Serif&quot;,serif;font-size:27.2px;font-weight:normal" stroke="#000" stroke-width="0.35">(</text>
<text transform="translate(23.9,519.2) rotate(-90)" textLength="39.9" lengthAdjust="spacingAndGlyphs" style="font-family:&quot;Liberation Serif&quot;,serif;font-size:27.2px;font-weight:normal" stroke="#000" stroke-width="0.35">km</text>
<text transform="translate(23.9,463.2) rotate(-90)" textLength="11.4" lengthAdjust="spacingAndGlyphs" style="font-family:&quot;Liberation Serif&quot;,serif;font-size:27.2px;font-weight:normal" stroke="#000" stroke-width="0.35">s</text>
<text transform="translate(12.0,448.7) rotate(-90)" textLength="18.4" lengthAdjust="spacingAndGlyphs" style="font-family:&quot;Liberation Serif&quot;,serif;font-size:16.0px;font-weight:normal" stroke="#000" stroke-width="0.35">−1</text>
<text transform="translate(22.4,426.2) rotate(-90)" textLength="7.4" lengthAdjust="spacingAndGlyphs" style="font-family:&quot;Liberation Serif&quot;,serif;font-size:27.2px;font-weight:normal" stroke="#000" stroke-width="0.35">)</text>
<text transform="translate(12.0,414.7) rotate(-90)" textLength="18.4" lengthAdjust="spacingAndGlyphs" style="font-family:&quot;Liberation Serif&quot;,serif;font-size:16.0px;font-weight:normal" stroke="#000" stroke-width="0.35">−1</text>
<text x="256.3" y="1212.0" textLength="73.7" lengthAdjust="spacingAndGlyphs" style="font-family:&quot;Liberation Serif&quot;,serif;font-size:18.3px;font-weight:normal" stroke="#000" stroke-width="0.45">Velocity</text>
<text x="342.1" y="1211.0" textLength="4.8" lengthAdjust="spacingAndGlyphs" style="font-family:&quot;Liberation Serif&quot;,serif;font-size:21.3px;font-weight:normal" stroke="#000" stroke-width="0.45">(</text>
<text x="349.2" y="1212.0" textLength="29.3" lengthAdjust="spacingAndGlyphs" style="font-family:&quot;Liberation Serif&quot;,serif;font-size:18.3px;font-weight:normal" stroke="#000" stroke-width="0.45">km</text>
<text x="389.6" y="1212.0" textLength="8.7" lengthAdjust="spacingAndGlyphs" style="font-family:&quot;Liberation Serif&quot;,serif;font-size:18.3px;font-weight:normal" stroke="#000" stroke-width="0.45">s</text>
<text x="400.0" y="1204.8" textLength="13.4" lengthAdjust="spacingAndGlyphs" style="font-family:&quot;Liberation Serif&quot;,serif;font-size:10.8px;font-weight:normal" stroke="#000" stroke-width="0.45">−1</text>
<text x="415.7" y="1211.0" textLength="5.6" lengthAdjust="spacingAndGlyphs" style="font-family:&quot;Liberation Serif&quot;,serif;font-size:21.3px;font-weight:normal" stroke="#000" stroke-width="0.45">)</text>
</svg>
</body></html>
